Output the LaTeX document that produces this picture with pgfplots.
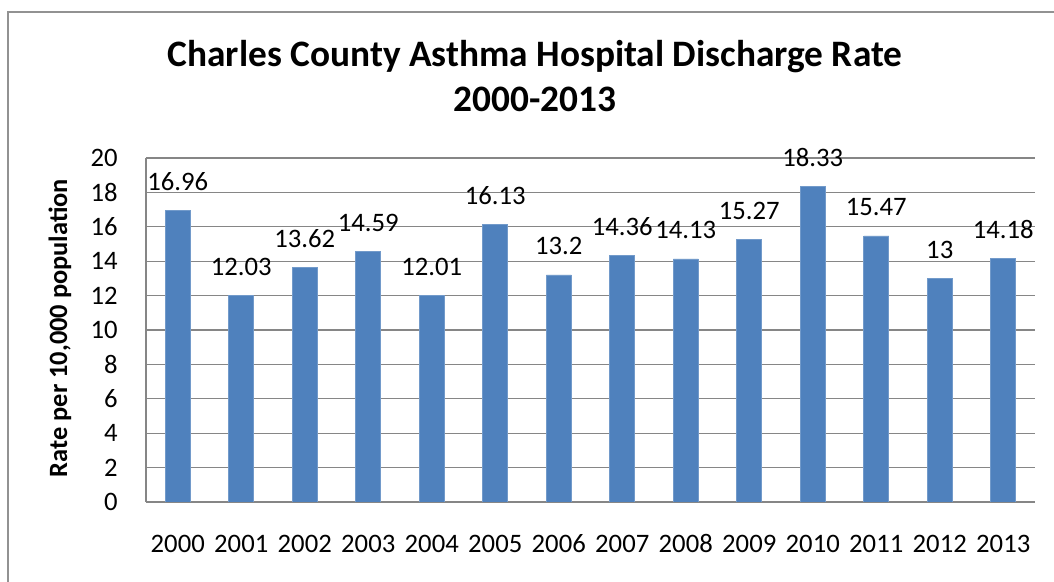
\documentclass[border=0pt]{standalone}
\usepackage{pgfplots}
\pgfplotsset{compat=1.18}
\usepackage{pgfplotstable}
\usepackage{fontspec}
\setmainfont{Carlito}

\definecolor{barblue}{RGB}{79,129,189}
\definecolor{gridgray}{RGB}{134,134,134}

\pgfplotstableread{
x  y      lab
0  16.96  16.96
1  12.03  12.03
2  13.62  13.62
3  14.59  14.59
4  12.01  12.01
5  16.13  16.13
6  13.20  13.2
7  14.36  14.36
8  14.13  14.13
9  15.27  15.27
10 18.33  18.33
11 15.47  15.47
12 13.00  13
13 14.18  14.18
}\ratedata

\begin{document}
\begin{tikzpicture}
  \clip (0,0) rectangle (790.5pt,436.5pt);
  \fill[white] (0,0) rectangle (790.5pt,436.5pt);
  % chart frame (right and bottom edges fall outside the picture)
  \draw[gridgray!90, line width=1.2pt] (6pt,-5pt) -- (6pt,427.5pt) -- (800pt,427.5pt);

  \begin{axis}[
      at={(109.5pt,60pt)}, anchor=south west,
      scale only axis,
      width=666.75pt, height=258pt,
      xmin=-0.5, xmax=13.5,
      ymin=0, ymax=20,
      ytick={0,2,...,20},
      xtick=data,
      xticklabels={2000,2001,2002,2003,2004,2005,2006,2007,2008,2009,2010,2011,2012,2013},
      axis x line*=bottom, axis y line*=left,
      axis line style={gridgray, line width=0.9pt, -},
      ymajorgrids,
      grid style={gridgray, line width=0.9pt},
      major tick length=0pt,
      tick label style={font=\fontsize{20}{24}\selectfont},
      /pgf/number format/assume math mode=true,
      yticklabel style={anchor=east, inner sep=0pt, xshift=-21pt},
      xticklabel style={anchor=base, inner sep=0pt, yshift=-38pt},
      ybar, bar width=18.75pt,
      point meta=explicit symbolic,
      nodes near coords,
      every node near coord/.append style={anchor=base, inner sep=0pt, yshift=15pt,
        font=\fontsize{20}{24}\selectfont, text=black},
    ]
    \addplot[fill=barblue, draw=barblue!80!white, line width=0.5pt]
      table[x=x, y=y, meta=lab] {\ratedata};
  \end{axis}

  \node[anchor=base, font=\fontsize{28}{33}\selectfont\bfseries] at (401.25pt,386.25pt)
    {Charles County Asthma Hospital Discharge Rate};
  \node[anchor=base, font=\fontsize{28}{33}\selectfont\bfseries] at (401.25pt,352.5pt)
    {2000-2013};
  \node[rotate=90, font=\fontsize{19.8}{24}\selectfont\bfseries] at (45pt,190.5pt)
    {Rate per 10,000 population};
\end{tikzpicture}
\end{document}
